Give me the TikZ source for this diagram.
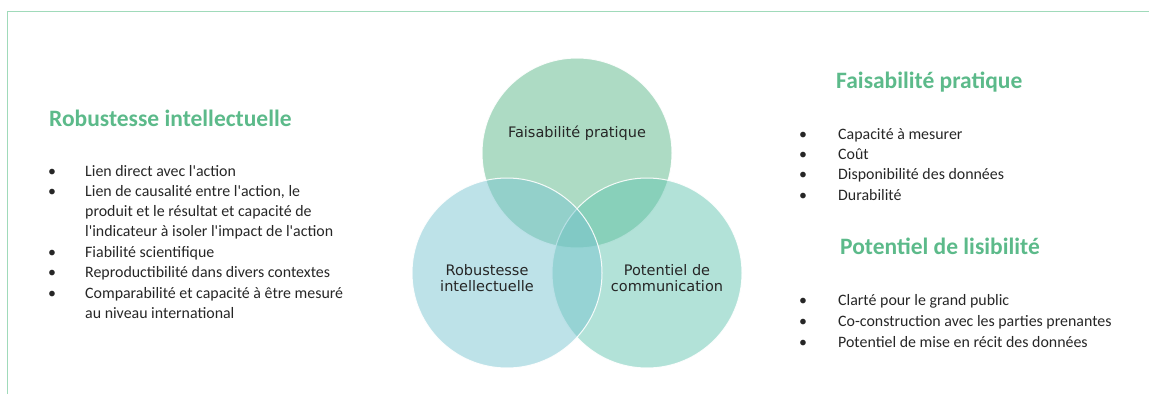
\documentclass[tikz,border=0pt]{standalone}
\usepackage{fontspec}
\setmainfont{Carlito}
\newfontfamily\etiquette{DejaVu Sans}
\newcommand\apos{\textquotesingle}
\definecolor{vertTitre}{RGB}{92,186,138}
\definecolor{texte}{RGB}{38,38,38}
\definecolor{cadre}{RGB}{160,218,186}
\definecolor{vertF}{RGB}{91,183,137}
\definecolor{bleuR}{RGB}{123,197,209}
\definecolor{turqP}{RGB}{101,197,177}
\begin{document}
\begin{tikzpicture}[x=1pt,y=-1pt,
    titre/.style={anchor=west,inner sep=0pt,text=vertTitre,
      font=\bfseries\fontsize{23.5}{28}\selectfont},
    ligne/.style={anchor=west,inner sep=0pt,text height=10pt,text depth=3pt,
      text=texte,font=\fontsize{15.9}{19}\selectfont},
    puce/.style={ligne,anchor=center},
    cercle/.style={circle,minimum size=190pt,inner sep=0pt,draw=white,
      line width=1pt,fill opacity=0.5,draw opacity=0.9},
    nomcercle/.style={align=center,inner sep=0pt,text=black!85,
      font=\etiquette\fontsize{14.5}{15.7}\selectfont}]
  \useasboundingbox (0,0) rectangle (1149,394);
  % cadre
  \draw[cadre,line width=1pt] (7,394) -- (7,11) -- (1149,11);

  % les trois cercles
  \node[cercle,fill=vertF] (cF) at (577,153) {};
  \node[cercle,fill=turqP] (cP) at (647,273) {};
  \node[cercle,fill=bleuR] (cR) at (507,273) {};
  \node[nomcercle] (nF) at (577,133) {Faisabilité pratique};
  \node[nomcercle] (nR) at (487,278) {Robustesse\\intellectuelle};
  \node[nomcercle] (nP) at (667,278) {Potentiel de\\communication};

  % colonne de gauche
  \node[titre] (tR) at (49,118) {Robustesse intellectuelle};
  \node[puce] (pR1) at (52,172.5) {•};
  \node[ligne] (lR1) at (85,172.5) {Lien direct avec l\apos action};
  \node[puce] (pR2) at (52,192.5) {•};
  \node[ligne] (lR2) at (85,192.5) {Lien de causalité entre l\apos action, le};
  \node[ligne] (lR3) at (85,212.5) {produit et le résultat et capacité de};
  \node[ligne] (lR4) at (85,233) {l\apos indicateur à isoler l\apos impact de l\apos action};
  \node[puce] (pR3) at (52,253.5) {•};
  \node[ligne] (lR5) at (85,253.5) {Fiabilité scientifique};
  \node[puce] (pR4) at (52,274) {•};
  \node[ligne] (lR6) at (85,274) {Reproductibilité dans divers contextes};
  \node[puce] (pR5) at (52,294.5) {•};
  \node[ligne] (lR7) at (85,294.5) {Comparabilité et capacité à être mesuré};
  \node[ligne] (lR8) at (85,315) {au niveau international};

  % colonne de droite
  \node[titre] (tF) at (836,82) {Faisabilité pratique};
  \node[puce] (pF1) at (803,135.5) {•};
  \node[ligne] (lF1) at (838,135.5) {Capacité à mesurer};
  \node[puce] (pF2) at (803,155.5) {•};
  \node[ligne] (lF2) at (838,155.5) {Coût};
  \node[puce] (pF3) at (803,176) {•};
  \node[ligne] (lF3) at (838,176) {Disponibilité des données};
  \node[puce] (pF4) at (803,196.5) {•};
  \node[ligne] (lF4) at (838,196.5) {Durabilité};

  \node[titre] (tP) at (840,246) {Potentiel de lisibilité};
  \node[puce] (pP1) at (803,301.5) {•};
  \node[ligne] (lP1) at (838,301.5) {Clarté pour le grand public};
  \node[puce] (pP2) at (803,322.5) {•};
  \node[ligne] (lP2) at (838,322.5) {Co-construction avec les parties prenantes};
  \node[puce] (pP3) at (803,343.5) {•};
  \node[ligne] (lP3) at (838,343.5) {Potentiel de mise en récit des données};
\end{tikzpicture}
\end{document}
